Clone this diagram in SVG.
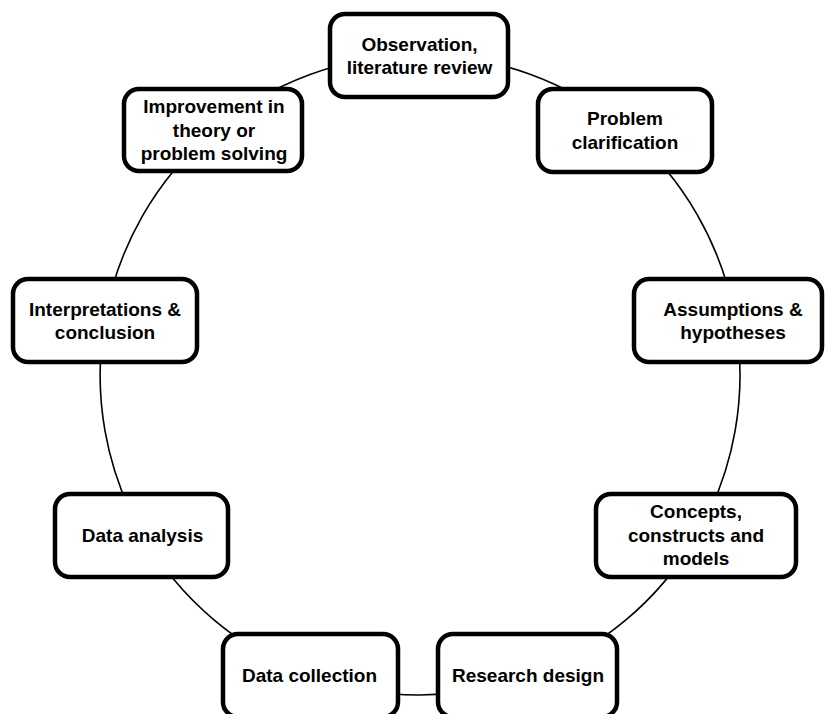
<svg xmlns="http://www.w3.org/2000/svg" width="825" height="714" viewBox="0 0 825 714">
<style>
.box{fill:#fff;stroke:#000;stroke-width:4.5}
.conn{fill:none;stroke:#000;stroke-width:1.6}
text{font-family:"Liberation Sans",Arial,sans-serif;font-weight:bold;font-size:19px;text-anchor:middle;fill:#000}
</style>
<rect width="825" height="714" fill="#fff"/>
<g id="connectors">
<path class="conn" d="M420,55 A320,320 0 0 1 625.6,129.2"/>
<path class="conn" d="M625.6,129.2 A320,320 0 0 1 735,318.8"/>
<path class="conn" d="M735,318.8 A320,320 0 0 1 696.9,535.5"/>
<path class="conn" d="M696.9,535.5 A320,320 0 0 1 527.5,676.4"/>
<path class="conn" d="M527.5,676.4 A320,320 0 0 1 309.8,675.5"/>
<path class="conn" d="M309.8,675.5 A320,320 0 0 1 142.4,534.2"/>
<path class="conn" d="M142.4,534.2 A320,320 0 0 1 104.8,320.8"/>
<path class="conn" d="M104.8,320.8 A320,320 0 0 1 213.5,130.6"/>
<path class="conn" d="M213.5,130.6 A320,320 0 0 1 420,55"/>
</g>
<g id="observation">
<rect class="box" x="330" y="14" width="178" height="83" rx="15"/>
<text x="419.5" y="50.5">Observation,</text>
<text x="419.5" y="74">literature review</text>
</g>
<g id="problem">
<rect class="box" x="538" y="89" width="174" height="83" rx="15"/>
<text x="625" y="125">Problem</text>
<text x="625" y="148.5">clarification</text>
</g>
<g id="assumptions">
<rect class="box" x="634" y="279" width="188" height="83" rx="15"/>
<text x="733" y="315.5">Assumptions &amp;</text>
<text x="733" y="339">hypotheses</text>
</g>
<g id="concepts">
<rect class="box" x="596" y="494" width="200" height="83" rx="15"/>
<text x="696" y="518">Concepts,</text>
<text x="696" y="541.5">constructs and</text>
<text x="696" y="565">models</text>
</g>
<g id="research-design">
<rect class="box" x="438" y="634" width="179" height="83" rx="15"/>
<text x="528" y="682">Research design</text>
</g>
<g id="data-collection">
<rect class="box" x="223" y="634" width="175" height="83" rx="15"/>
<text x="309.5" y="682">Data collection</text>
</g>
<g id="data-analysis">
<rect class="box" x="55" y="494" width="173" height="83" rx="15"/>
<text x="142.5" y="542">Data analysis</text>
</g>
<g id="interpretations">
<rect class="box" x="13" y="279" width="184" height="83" rx="15"/>
<text x="105" y="315.5">Interpretations &amp;</text>
<text x="105" y="339">conclusion</text>
</g>
<g id="improvement">
<rect class="box" x="124" y="89" width="178" height="82" rx="15"/>
<text x="214" y="113">Improvement in</text>
<text x="214" y="136.5">theory or</text>
<text x="214" y="160">problem solving</text>
</g>
</svg>
